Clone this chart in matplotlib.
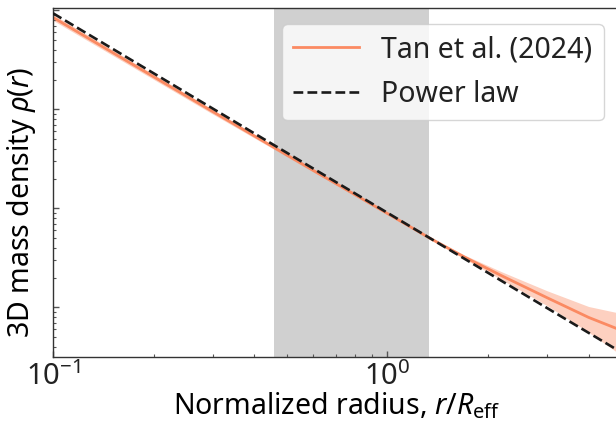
import numpy as np
import matplotlib
matplotlib.use("Agg")
import matplotlib.pyplot as plt
from matplotlib.ticker import NullFormatter

# values (radius in R_eff, density as log10, arbitrary units)
r_tan = [0.1, 0.3, 0.6, 1.0, 1.34, 1.7, 2.2, 3.0, 4.0, 5.0]
logrho_tan = [-0.07, -1.02, -1.615, -2.05, -2.30, -2.49, -2.68, -2.90, -3.10, -3.23]
logrho_tan_hi = [-0.04, -1.00, -1.60, -2.04, -2.292, -2.47, -2.64, -2.83, -2.99, -3.06]
logrho_tan_lo = [-0.10, -1.045, -1.63, -2.06, -2.308, -2.51, -2.72, -2.98, -3.25, -3.48]

r_pl = [0.1, 5.0]
logrho_pl = [-0.028, -3.451]

shade_lo, shade_hi = 0.458, 1.337

plt.rcParams['font.family'] = ['Noto Sans', 'DejaVu Sans']
plt.rcParams['mathtext.fontset'] = 'custom'
plt.rcParams['mathtext.rm'] = 'Noto Sans'
plt.rcParams['mathtext.it'] = 'Noto Sans:italic'
plt.rcParams['text.color'] = '#222222'

fig = plt.figure(figsize=(6.16, 4.25), dpi=100)
# axes runs slightly past the right edge, as in the cropped original
ax = fig.add_axes([53 / 616, 68 / 425, 568 / 616, 349.5 / 425])

ax.axvspan(shade_lo, shade_hi, color='#d0d0d0', lw=0, zorder=0)

ax.fill_between(r_tan, np.power(10.0, logrho_tan_lo), np.power(10.0, logrho_tan_hi),
                color='#fb8a62', alpha=0.4, lw=0, zorder=1)
ax.plot(r_tan, np.power(10.0, logrho_tan), color='#fb8a62', lw=2.0,
        label='Tan et al. (2024)', zorder=2)
ax.plot(r_pl, np.power(10.0, logrho_pl), '--', color='#1a1a1a', lw=1.9,
        label='Power law', zorder=3)

ax.set_xscale('log')
ax.set_yscale('log')
ax.set_xlim(0.1, 5.0)
ax.set_ylim(10 ** -3.50, 10 ** 0.03)

ax.yaxis.set_major_formatter(NullFormatter())
ax.yaxis.set_minor_formatter(NullFormatter())
ax.xaxis.set_minor_formatter(NullFormatter())

for s in ax.spines.values():
    s.set_color('#333333')
    s.set_linewidth(1.0)
ax.tick_params(which='both', direction='in', color='#555555', labelsize=21,
               labelcolor='#222222')
ax.tick_params(which='major', length=4, width=1.0, pad=4)
ax.tick_params(which='minor', length=2.5, width=0.8)

ax.set_xlabel(r'Normalized radius, $r/R_{\rm eff}$', fontsize=20.5)
ax.set_ylabel(r'3D mass density $\rho(r)$', fontsize=20.5)
ax.xaxis.set_label_coords(0.5, -0.095)
ax.yaxis.set_label_coords(-0.027, 0.443)

ax.legend(loc='upper right', bbox_to_anchor=(604 / 616, 1 - 24 / 425),
          bbox_transform=fig.transFigure, borderaxespad=0, fontsize=20.5,
          handlelength=2.3, handletextpad=0.8, labelspacing=0.55)

plt.savefig("out.png", dpi=100)
